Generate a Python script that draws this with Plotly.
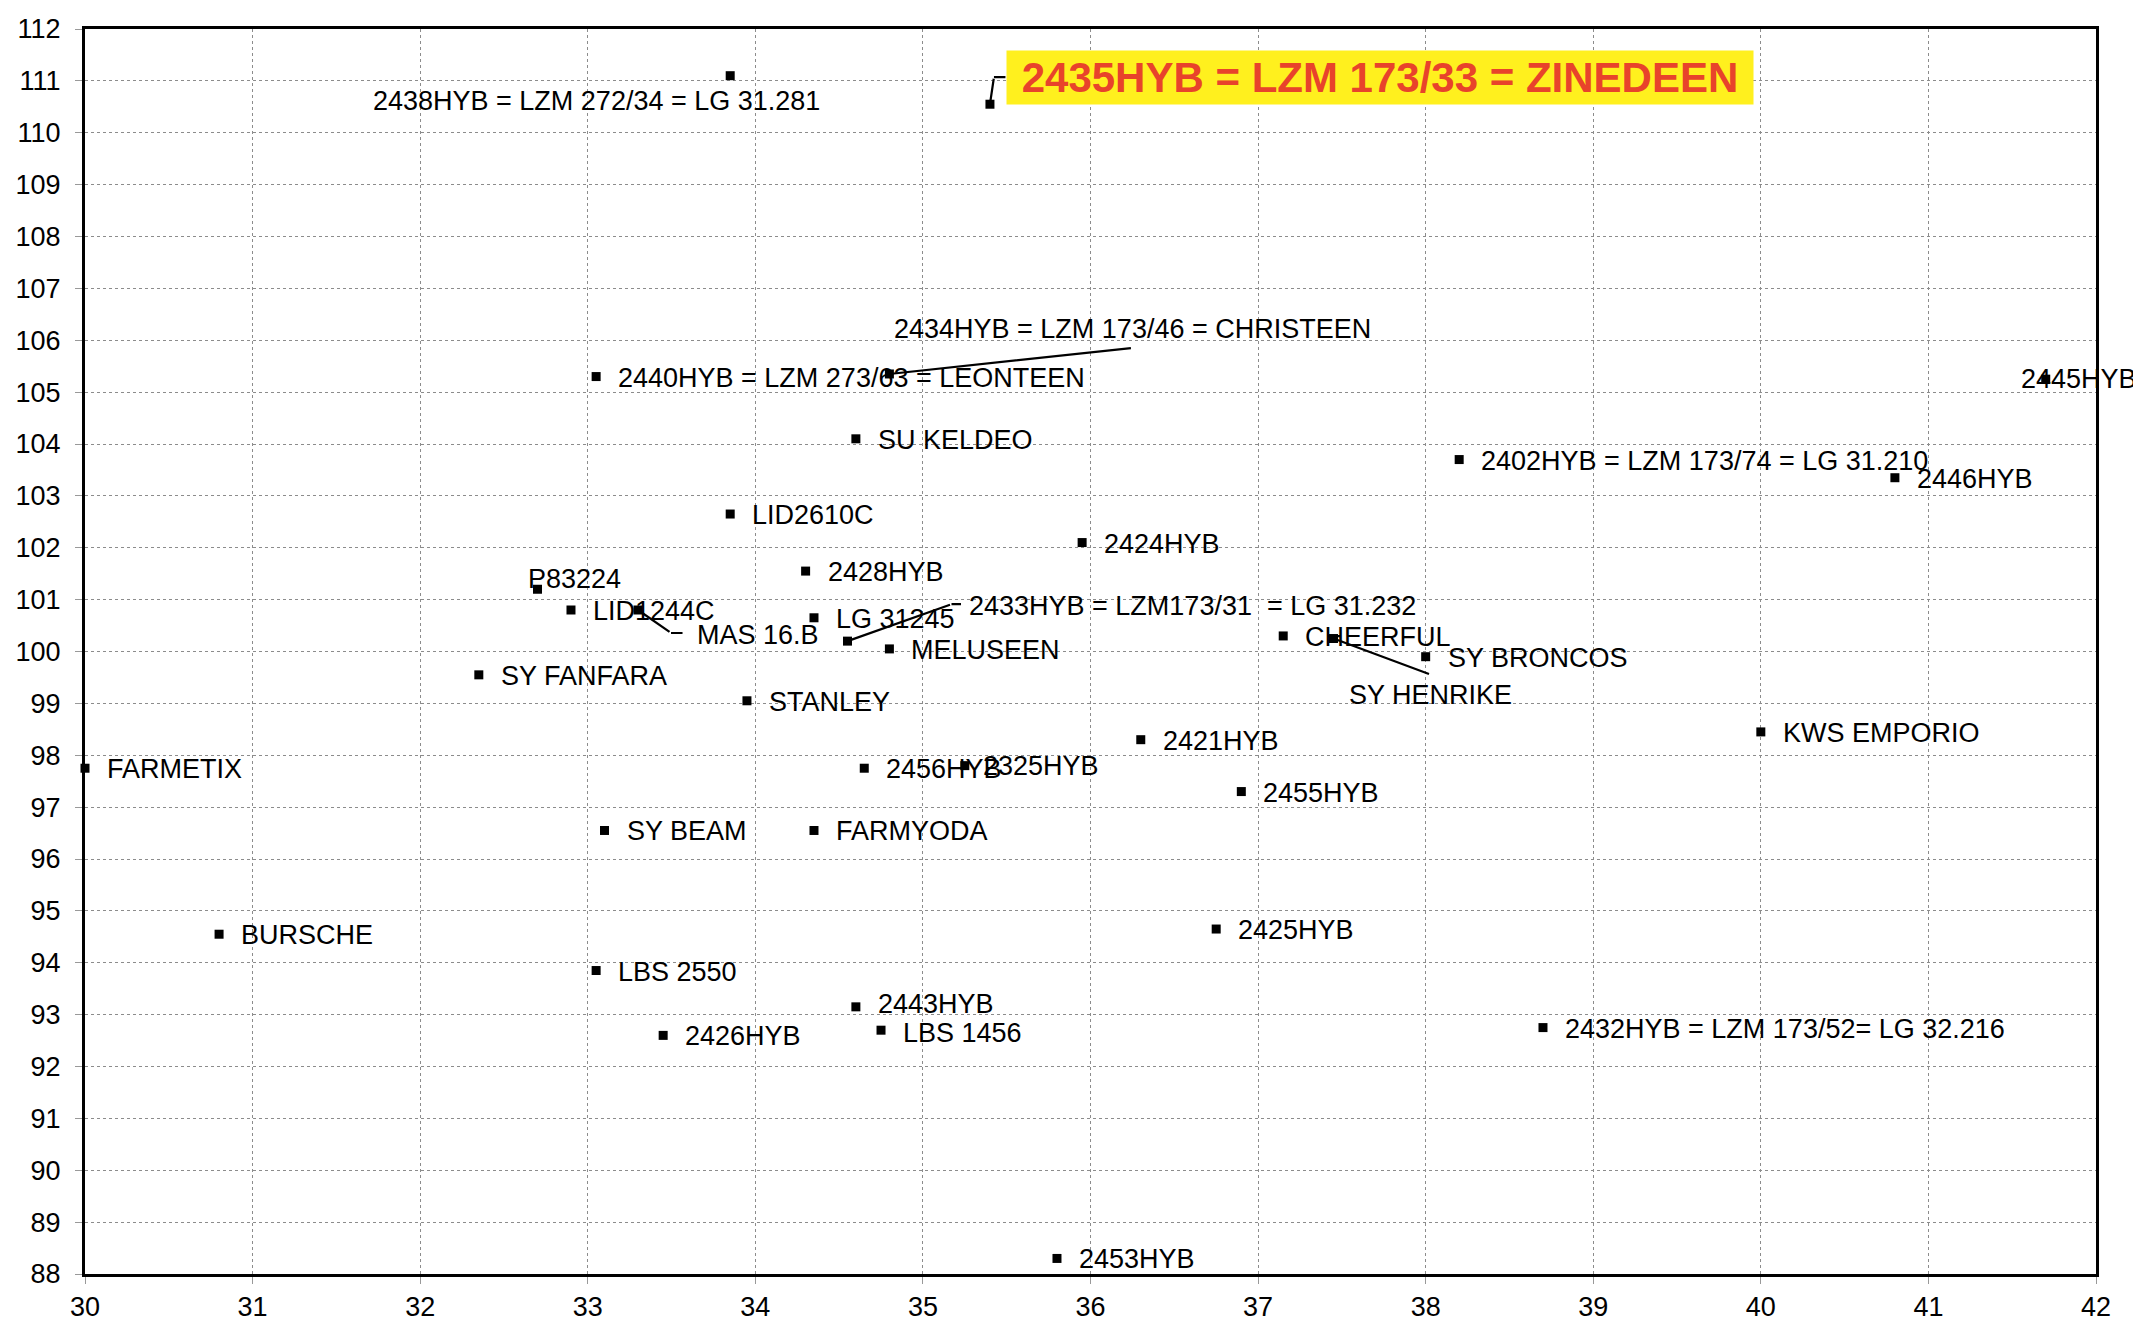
import plotly.graph_objects as go

names = ["2438HYB", "2435HYB", "2434HYB", "2440HYB", "SU KELDEO", "LID2610C", "2428HYB",
         "P83224", "LID1244C", "MAS 16.B", "LG 31245", "2433HYB", "MELUSEEN", "CHEERFUL",
         "SY HENRIKE", "SY BRONCOS", "SY FANFARA", "STANLEY", "2424HYB", "2402HYB",
         "2446HYB", "2445HYB", "KWS EMPORIO", "2421HYB", "FARMETIX", "2456HYB", "2325HYB",
         "2455HYB", "SY BEAM", "FARMYODA", "BURSCHE", "2425HYB", "LBS 2550", "2443HYB",
         "LBS 1456", "2426HYB", "2432HYB", "2453HYB"]
labels = ["2438HYB = LZM 272/34 = LG 31.281", "2435HYB = LZM 173/33 = ZINEDEEN",
          "2434HYB = LZM 173/46 = CHRISTEEN", "2440HYB = LZM 273/63 = LEONTEEN",
          "SU KELDEO", "LID2610C", "2428HYB", "P83224", "LID1244C", "MAS 16.B", "LG 31245",
          "2433HYB = LZM173/31  = LG 31.232", "MELUSEEN", "CHEERFUL", "SY HENRIKE",
          "SY BRONCOS", "SY FANFARA", "STANLEY", "2424HYB", "2402HYB = LZM 173/74 = LG 31.210",
          "2446HYB", "2445HYB", "KWS EMPORIO", "2421HYB", "FARMETIX", "2456HYB", "2325HYB",
          "2455HYB", "SY BEAM", "FARMYODA", "BURSCHE", "2425HYB", "LBS 2550", "2443HYB",
          "LBS 1456", "2426HYB", "2432HYB = LZM 173/52= LG 32.216", "2453HYB"]
x_vals = [33.85, 35.4, 34.8, 33.05, 34.6, 33.85, 34.3, 32.7, 32.9, 33.3, 34.35, 34.55, 34.8,
          37.15, 37.45, 38.0, 32.35, 33.95, 35.95, 38.2, 40.8, 41.7, 40.0, 36.3, 30.0, 34.65,
          35.25, 36.9, 33.1, 34.35, 30.8, 36.75, 33.05, 34.6, 34.75, 33.45, 38.7, 35.8]
y_vals = [111.1, 110.55, 105.35, 105.3, 104.1, 102.65, 101.55, 101.2, 100.8, 100.8, 100.65,
          100.2, 100.05, 100.3, 100.25, 99.9, 99.55, 99.05, 102.1, 103.7, 103.35, 105.25,
          98.45, 98.3, 97.75, 97.75, 97.8, 97.3, 96.55, 96.55, 94.55, 94.65, 93.85, 93.15,
          92.7, 92.6, 92.75, 88.3]

x_ticks = list(range(30, 43))
y_ticks = list(range(88, 113))

FONT = "Liberation Sans, Arial, sans-serif"
FS = 27

fig = go.Figure()
fig.add_trace(go.Scatter(
    x=x_vals, y=y_vals, mode="markers",
    marker=dict(symbol="square", size=9, color="black"),
    cliponaxis=False, showlegend=False, hoverinfo="text", hovertext=names))

# label placement (pixel offsets), special cases
special = {
    "2438HYB": dict(xanchor="center", xshift=-134, yshift=-25),
    "2434HYB": dict(xanchor="center", xshift=243, yshift=45),
    "P83224": dict(xanchor="left", xshift=-11, yshift=10),
    "MAS 16.B": dict(xanchor="left", xshift=57, yshift=-25),
    "2433HYB": dict(xanchor="left", xshift=119, yshift=35),
    "SY HENRIKE": dict(xanchor="center", xshift=97, yshift=-56),
    "2445HYB": dict(xanchor="left", xshift=-27, yshift=0),
    "2325HYB": dict(xanchor="left", xshift=16, yshift=0),
    "2443HYB": dict(xanchor="left", xshift=20, yshift=3),
    "LBS 1456": dict(xanchor="left", xshift=20, yshift=-3),
}

annotations = []
for n, lab, xv, yv in zip(names, labels, x_vals, y_vals):
    if n == "2435HYB":
        annotations.append(dict(
            x=xv, y=yv, xref="x", yref="y",
            text="<b>&nbsp;" + lab + "&nbsp;</b>", showarrow=False,
            xanchor="left", yanchor="middle", xshift=16, yshift=27,
            font=dict(family=FONT, size=42, color="#E8432B"),
            bgcolor="#FFF01E", borderpad=3))
        continue
    p = special.get(n, dict(xanchor="left", xshift=20, yshift=-1))
    annotations.append(dict(
        x=xv, y=yv, xref="x", yref="y", text=lab, showarrow=False,
        xanchor=p["xanchor"], yanchor="middle", xshift=p["xshift"], yshift=p["yshift"],
        font=dict(family=FONT, size=FS, color="black")))

# leader lines (pixel offsets from the point)
leaders = {
    "2435HYB": [((0, 0), (4, -27)), ((4, -27), (17, -27))],
    "2434HYB": [((0, 0), (243, -26))],
    "MAS 16.B": [((0, 0), (33, 23)), ((33, 23), (46, 23))],
    "2433HYB": [((0, 0), (104, -37)), ((104, -37), (115, -37))],
    "SY HENRIKE": [((0, 0), (97, 36))],
}
for n, segs in leaders.items():
    i = names.index(n)
    for (sx, sy), (ex, ey) in segs:
        annotations.append(dict(
            x=x_vals[i], y=y_vals[i], xref="x", yref="y", text="",
            showarrow=True, arrowhead=0, arrowwidth=2.2, arrowcolor="black",
            xshift=sx, yshift=-sy, ax=ex - sx, ay=ey - sy, standoff=0, startstandoff=0))

axis_common = dict(
    showline=True, linecolor="black", linewidth=3, mirror=True,
    showgrid=True, gridcolor="#8c8c8c", gridwidth=1, griddash="dot",
    ticks="outside", ticklen=7, tickcolor="#999999", tickwidth=1,
    tickfont=dict(family=FONT, size=FS, color="black"), zeroline=False,
    automargin=False,
)
fig.update_xaxes(range=[30, 42], tickvals=x_ticks, ticktext=[str(v) for v in x_ticks],
                 ticklabelstandoff=0, **axis_common)
fig.update_yaxes(range=[88, 112], tickvals=y_ticks, ticktext=[str(v) for v in y_ticks],
                 ticklabelstandoff=9, **axis_common)

fig.update_layout(
    width=2141, height=1337,
    margin=dict(l=77, r=53, t=21, b=71),
    plot_bgcolor="white", paper_bgcolor="white",
    annotations=annotations,
    font=dict(family=FONT, size=FS, color="black"),
)

fig.write_html("out.html")
